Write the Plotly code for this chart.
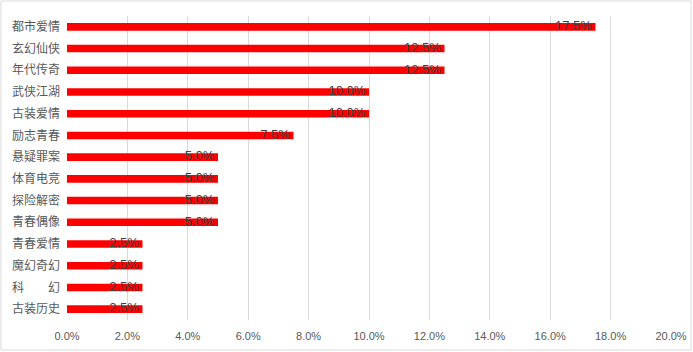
import plotly.graph_objects as go

categories = ["都市爱情", "玄幻仙侠", "年代传奇", "武侠江湖", "古装爱情", "励志青春",
              "悬疑罪案", "体育电竞", "探险解密", "青春偶像", "青春爱情", "魔幻奇幻",
              "科　　幻", "古装历史"]
values = [17.5, 12.5, 12.5, 10.0, 10.0, 7.5, 5.0, 5.0, 5.0, 5.0, 2.5, 2.5, 2.5, 2.5]
x_ticks = [0, 2, 4, 6, 8, 10, 12, 14, 16, 18, 20]
x_tick_labels = [f"{v:.1f}%" for v in x_ticks]
value_labels = [f"{v:.1f}%" for v in values]

fig = go.Figure()
fig.add_trace(go.Bar(
    y=categories, x=values, orientation="h",
    marker=dict(color="#ff0000", line=dict(width=0)),
    width=0.35, hoverinfo="skip",
))
fig.add_trace(go.Scatter(
    y=categories, x=values, mode="text",
    text=[t + " " for t in value_labels], textposition="middle left",
    textfont=dict(family="Liberation Sans", size=13, color="#404040"),
    hoverinfo="skip", showlegend=False, cliponaxis=False,
))

L, R, T, B = 67, 22, 16, 32
W, H = 693, 352
pw, ph = W - L - R, H - T - B

fig.update_layout(
    template="none",
    width=W, height=H,
    margin=dict(l=L, r=R, t=T, b=B, autoexpand=False),
    paper_bgcolor="white", plot_bgcolor="white",
    showlegend=False,
    xaxis=dict(range=[0, 20], tickvals=x_ticks, ticktext=x_tick_labels,
               showgrid=True, gridcolor="#d9d9d9", gridwidth=1, automargin=False,
               zeroline=False, showline=False, ticks="", ticklabelstandoff=8,
               tickfont=dict(family="Liberation Sans", size=11, color="#595959")),
    yaxis=dict(categoryorder="array", categoryarray=categories,
               range=[len(categories) - 0.5, -0.5], autorange=False, automargin=False,
               showgrid=False, zeroline=False, showline=False, ticks="",
               ticklabelstandoff=6,
               tickfont=dict(family="Noto Sans CJK SC", size=12, color="#595959")),
    shapes=[dict(type="rect", xref="paper", yref="paper",
                 x0=(1 - L) / pw, x1=(W - 2 - L) / pw,
                 y0=-(H - 2 - T - ph) / ph, y1=1 + (T - 1) / ph,
                 line=dict(color="#d9d9d9", width=1))],
)
fig.write_html("out.html")
